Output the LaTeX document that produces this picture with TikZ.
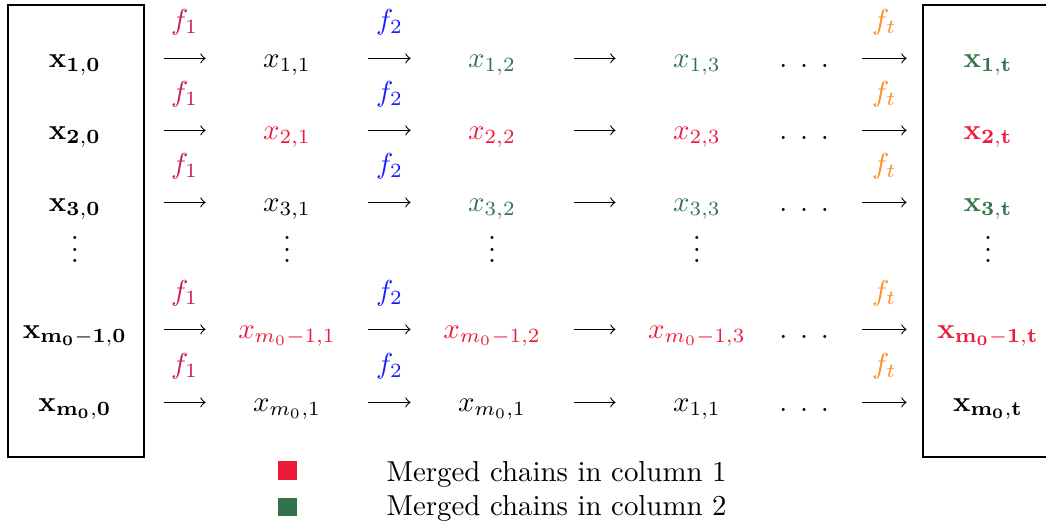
\documentclass[tikz,border=0pt]{standalone}
\definecolor{mred}{HTML}{EE1A3A}
\definecolor{mgreen}{HTML}{32734A}
\definecolor{fone}{HTML}{C8175A}
\definecolor{ftwo}{HTML}{1A1AFF}
\definecolor{ftee}{HTML}{FF8C1A}

\begin{document}
\begin{tikzpicture}[>=to,
  cell/.style={anchor=base,inner sep=0pt,minimum width=1.97cm,text height=9pt,text depth=3pt},
  startcell/.style={cell,minimum width=2.144cm},
  dotcell/.style={anchor=base east,inner sep=0pt,text width=1cm,align=left,text height=9pt,text depth=3pt},
  flab/.style={midway,yshift=12.5pt,inner sep=0pt},
  vd/.style={anchor=base,inner sep=0pt,text height=9.5pt}]
\useasboundingbox (0,0) rectangle (12.74,-6.407);
\draw (0.097,-0.061) rectangle (1.754,-5.566);
\draw (12.74,-0.061) -- (11.242,-0.061) -- (11.242,-5.566) -- (12.74,-5.566);
% row 1
\node[startcell] (x1-0) at (0.913,-0.816) {$\mathbf{x_{1,0}}$};
\node[cell] (x1-1) at (3.496,-0.816) {$x_{1,1}$};
\node[cell,mgreen] (x1-2) at (5.993,-0.816) {$x_{1,2}$};
\node[cell,mgreen] (x1-3) at (8.489,-0.816) {$x_{1,3}$};
\node[dotcell] (x1-d) at (10.499,-0.816) {$\ldotp\;\ldotp\;\ldotp$};
\node[cell,mgreen] (x1-t) at (12.034,-0.816) {$\mathbf{x_{1,t}}$};
\draw[->] (x1-0) -- node[flab,fone] (f1-1) {$f_1$} (x1-1);
\draw[->] (x1-1) -- node[flab,ftwo] (f1-2) {$f_2$} (x1-2);
\draw[->] (x1-2) -- (x1-3);
\draw[->] (x1-d) -- node[flab,ftee] (f1-t) {$f_t$} (x1-t);
% row 2
\node[startcell] (x2-0) at (0.913,-1.693) {$\mathbf{x_{2,0}}$};
\node[cell,mred] (x2-1) at (3.496,-1.693) {$x_{2,1}$};
\node[cell,mred] (x2-2) at (5.993,-1.693) {$x_{2,2}$};
\node[cell,mred] (x2-3) at (8.489,-1.693) {$x_{2,3}$};
\node[dotcell] (x2-d) at (10.499,-1.693) {$\ldotp\;\ldotp\;\ldotp$};
\node[cell,mred] (x2-t) at (12.034,-1.693) {$\mathbf{x_{2,t}}$};
\draw[->] (x2-0) -- node[flab,fone] (f2-1) {$f_1$} (x2-1);
\draw[->] (x2-1) -- node[flab,ftwo] (f2-2) {$f_2$} (x2-2);
\draw[->] (x2-2) -- (x2-3);
\draw[->] (x2-d) -- node[flab,ftee] (f2-t) {$f_t$} (x2-t);
% row 3
\node[startcell] (x3-0) at (0.913,-2.570) {$\mathbf{x_{3,0}}$};
\node[cell] (x3-1) at (3.496,-2.570) {$x_{3,1}$};
\node[cell,mgreen] (x3-2) at (5.993,-2.570) {$x_{3,2}$};
\node[cell,mgreen] (x3-3) at (8.489,-2.570) {$x_{3,3}$};
\node[dotcell] (x3-d) at (10.499,-2.570) {$\ldotp\;\ldotp\;\ldotp$};
\node[cell,mgreen] (x3-t) at (12.034,-2.570) {$\mathbf{x_{3,t}}$};
\draw[->] (x3-0) -- node[flab,fone] (f3-1) {$f_1$} (x3-1);
\draw[->] (x3-1) -- node[flab,ftwo] (f3-2) {$f_2$} (x3-2);
\draw[->] (x3-2) -- (x3-3);
\draw[->] (x3-d) -- node[flab,ftee] (f3-t) {$f_t$} (x3-t);
% vertical dots
\node[vd] (v-0) at (0.913,-3.203) {$\vdots$};
\node[vd] (v-1) at (3.496,-3.203) {$\vdots$};
\node[vd] (v-2) at (5.993,-3.203) {$\vdots$};
\node[vd] (v-3) at (8.489,-3.203) {$\vdots$};
\node[vd] (v-t) at (12.034,-3.203) {$\vdots$};
% row m0-1
\node[startcell] (x4-0) at (0.913,-4.117) {$\mathbf{x_{m_0-1,0}}$};
\node[cell,mred] (x4-1) at (3.496,-4.117) {$x_{m_0-1,1}$};
\node[cell,mred] (x4-2) at (5.993,-4.117) {$x_{m_0-1,2}$};
\node[cell,mred] (x4-3) at (8.489,-4.117) {$x_{m_0-1,3}$};
\node[dotcell] (x4-d) at (10.499,-4.117) {$\ldotp\;\ldotp\;\ldotp$};
\node[cell,mred] (x4-t) at (12.034,-4.117) {$\mathbf{x_{m_0-1,t}}$};
\draw[->] (x4-0) -- node[flab,fone] (f4-1) {$f_1$} (x4-1);
\draw[->] (x4-1) -- node[flab,ftwo] (f4-2) {$f_2$} (x4-2);
\draw[->] (x4-2) -- (x4-3);
\draw[->] (x4-d) -- node[flab,ftee] (f4-t) {$f_t$} (x4-t);
% row m0
\node[startcell] (x5-0) at (0.913,-5.006) {$\mathbf{x_{m_0,0}}$};
\node[cell] (x5-1) at (3.496,-5.006) {$x_{m_0,1}$};
\node[cell] (x5-2) at (5.993,-5.006) {$x_{m_0,1}$};
\node[cell] (x5-3) at (8.489,-5.006) {$x_{1,1}$};
\node[dotcell] (x5-d) at (10.499,-5.006) {$\ldotp\;\ldotp\;\ldotp$};
\node[cell] (x5-t) at (12.034,-5.006) {$\mathbf{x_{m_0,t}}$};
\draw[->] (x5-0) -- node[flab,fone] (f5-1) {$f_1$} (x5-1);
\draw[->] (x5-1) -- node[flab,ftwo] (f5-2) {$f_2$} (x5-2);
\draw[->] (x5-2) -- (x5-3);
\draw[->] (x5-d) -- node[flab,ftee] (f5-t) {$f_t$} (x5-t);
% legend
\node[fill=mred,inner sep=0pt,minimum size=0.231cm] (sq1) at (3.502,-5.731) {};
\node[fill=mgreen,inner sep=0pt,minimum size=0.231cm] (sq2) at (3.502,-6.175) {};
\node[anchor=base west,inner sep=0pt] (lg1) at (4.701,-5.865) {Merged chains in column 1};
\node[anchor=base west,inner sep=0pt] (lg2) at (4.701,-6.273) {Merged chains in column 2};
\end{tikzpicture}
\end{document}
